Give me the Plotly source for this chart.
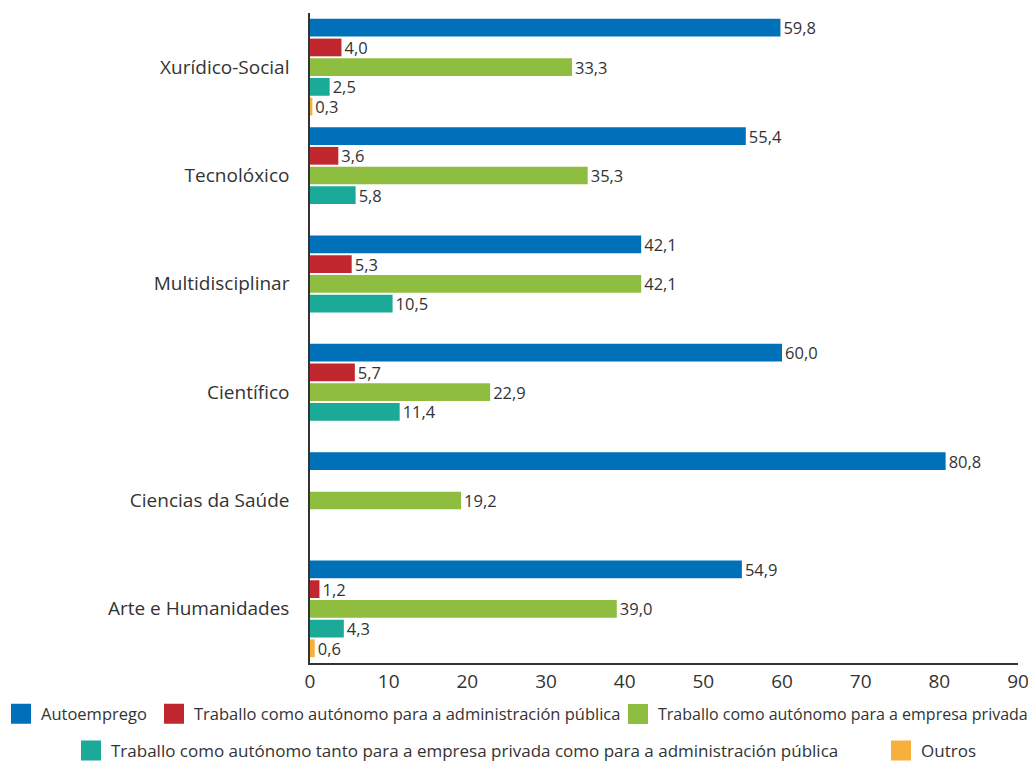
import plotly.graph_objects as go

categories = ["Xurídico-Social", "Tecnolóxico", "Multidisciplinar", "Científico",
              "Ciencias da Saúde", "Arte e Humanidades"]
series_names = [
    "Autoemprego",
    "Traballo como autónomo para a administración pública",
    "Traballo como autónomo para a empresa privada",
    "Traballo como autónomo tanto para a empresa privada como para a administración pública",
    "Outros",
]
autoemprego = [59.8, 55.4, 42.1, 60.0, 80.8, 54.9]
admin_publica = [4.0, 3.6, 5.3, 5.7, None, 1.2]
empresa_privada = [33.3, 35.3, 42.1, 22.9, 19.2, 39.0]
ambas = [2.5, 5.8, 10.5, 11.4, None, 4.3]
outros = [0.3, None, None, None, None, 0.6]
x_ticks = [0, 10, 20, 30, 40, 50, 60, 70, 80, 90]

colors = ["#0071B9", "#C1272F", "#8FBD40", "#1BAA97", "#F7B03D"]
all_values = [autoemprego, admin_publica, empresa_privada, ambas, outros]

# page body has an 8px margin, so the figure is sized/offset to compensate
OFF = 8
W, H = 1036 - OFF, 763 - OFF
ML, MR, MT, MB = 310 - OFF, 18, 13 - OFF, 100
PW, PH = W - ML - MR, H - MT - MB

# legend placement: (window x of square's left edge, window y of row centre, font size)
legend_px = [(12, 714, 16.5), (165, 714, 16.5), (629, 714, 16), (82, 751, 17), (892, 751, 17)]

fig = go.Figure()
for i, (name, vals, col) in enumerate(zip(series_names, all_values, colors)):
    lname = "legend" if i == 0 else f"legend{i+1}"
    fig.add_trace(go.Bar(
        y=categories, x=vals, name=name, orientation="h",
        marker=dict(color=col, line=dict(width=0)),
        texttemplate="%{x:.1f}", textposition="outside",
        textfont=dict(size=16.5, color="#333333"),
        constraintext="none", cliponaxis=False,
        showlegend=False,
    ))
    # legend-only proxy with a larger square symbol
    fig.add_trace(go.Scatter(
        x=[None], y=[None], mode="markers", name=name,
        marker=dict(symbol="square", size=16, color=col, line=dict(color=col, width=4)),
        showlegend=True, legend=lname,
    ))

legend_layouts = {}
for i, (px, py, fs) in enumerate(legend_px):
    lname = "legend" if i == 0 else f"legend{i+1}"
    box_left = px - 11 - OFF
    centre = py - OFF
    legend_layouts[lname] = dict(
        orientation="h",
        x=(box_left - ML) / PW, xanchor="left",
        y=(MT + PH - centre) / PH, yanchor="middle",
        font=dict(size=fs, color="#333333", family="Open Sans, sans-serif"),
        bgcolor="rgba(0,0,0,0)", borderwidth=0,
        itemsizing="trace",
    )

fig.update_layout(
    width=W, height=H,
    margin=dict(l=ML, r=MR, t=MT, b=MB, autoexpand=False),
    paper_bgcolor="white", plot_bgcolor="white",
    barmode="group", bargap=0.09, bargroupgap=0.1,
    separators=",.",
    font=dict(family="Open Sans, sans-serif", color="#333333"),
    showlegend=True,
    xaxis=dict(range=[0, 90], tickvals=x_ticks, showgrid=False, zeroline=False,
               showline=True, linecolor="#333333", linewidth=1.5,
               tickfont=dict(size=19, color="#333333"), ticks="",
               ticklabelstandoff=0),
    yaxis=dict(autorange="reversed", showgrid=False, zeroline=False,
               showline=True, linecolor="#333333", linewidth=1.5,
               tickfont=dict(size=19, color="#333333"), ticks="",
               ticklabelstandoff=15),
    **legend_layouts,
)

fig.write_html("out.html")
